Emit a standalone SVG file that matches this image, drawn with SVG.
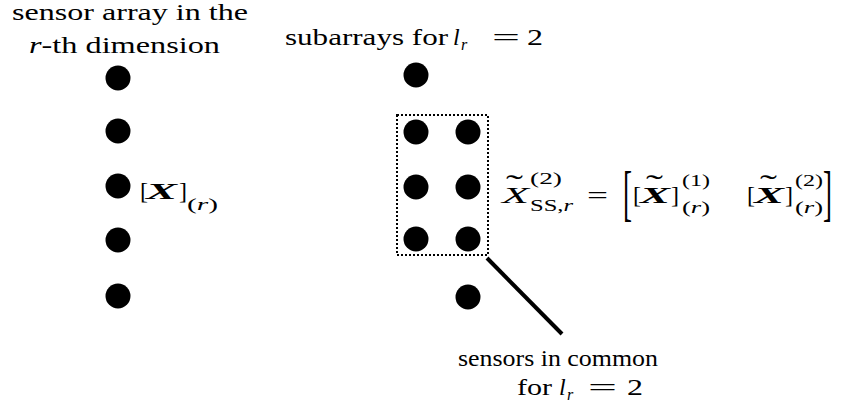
<svg xmlns="http://www.w3.org/2000/svg" width="841" height="408" viewBox="0 0 841 408">
<style>
text{font-family:'Liberation Serif','Times New Roman',serif;fill:#000}
.t{font-size:24px}
.i{font-style:italic}
.s{font-size:16px}
.bx{font-weight:bold;font-style:italic}
.big{font-size:62px}
.tl{font-size:30px}
.dot{fill:#000}
</style>
<rect width="841" height="408" fill="#fff"/>
<g id="label-left">
<text class="t" x="12" y="20" textLength="236" lengthAdjust="spacingAndGlyphs">sensor array in the</text>
<text class="t" x="29" y="53" textLength="191" lengthAdjust="spacingAndGlyphs"><tspan class="i">r</tspan>-th dimension</text>
</g>
<g id="label-sub">
<text class="t" x="285" y="45" textLength="163" lengthAdjust="spacingAndGlyphs">subarrays for</text>
<text class="t i" x="453" y="45">l</text>
<text class="t i s" x="461" y="50">r</text>
<text class="t" x="492" y="45" textLength="28" lengthAdjust="spacingAndGlyphs">=</text>
<text class="t" x="527" y="45" textLength="16" lengthAdjust="spacingAndGlyphs">2</text>
</g>
<g id="array-left">
<circle class="dot" cx="118" cy="78" r="12.5"/>
<circle class="dot" cx="118" cy="131" r="12.5"/>
<circle class="dot" cx="118" cy="186" r="12.5"/>
<circle class="dot" cx="118" cy="240" r="12.5"/>
<circle class="dot" cx="118" cy="296" r="12.5"/>
</g>
<g id="label-x">
<text class="t" x="140" y="199">[</text>
<text class="t bx" x="146" y="199" textLength="31" lengthAdjust="spacingAndGlyphs">X</text>
<text class="t" x="179" y="199">]</text>
<text class="t s" x="187" y="210" textLength="31" lengthAdjust="spacingAndGlyphs">(<tspan class="i">r</tspan>)</text>
</g>
<g id="array-right">
<circle class="dot" cx="416" cy="75" r="12.5"/>
<circle class="dot" cx="416" cy="132" r="12.5"/>
<circle class="dot" cx="468" cy="132" r="12.5"/>
<circle class="dot" cx="416" cy="187" r="12.5"/>
<circle class="dot" cx="468" cy="187" r="12.5"/>
<circle class="dot" cx="416" cy="239" r="12.5"/>
<circle class="dot" cx="468" cy="239" r="12.5"/>
<circle class="dot" cx="468" cy="297" r="12.5"/>
</g>
<g id="subarray-box">
<rect x="397" y="115" width="91" height="140" fill="none" stroke="#000" stroke-width="2" stroke-dasharray="2 2"/>
</g>
<g id="formula">
<text class="t i" x="502" y="203" textLength="27" lengthAdjust="spacingAndGlyphs">X</text>
<text class="tl" x="506" y="195" textLength="17" lengthAdjust="spacingAndGlyphs">˜</text>
<text class="t s" x="530" y="184" textLength="32" lengthAdjust="spacingAndGlyphs">(2)</text>
<text class="t s" x="530" y="211" textLength="43" lengthAdjust="spacingAndGlyphs">SS,<tspan class="i">r</tspan></text>
<text class="t" x="587" y="203" textLength="21" lengthAdjust="spacingAndGlyphs">=</text>
<text class="big" x="623" y="214" textLength="9" lengthAdjust="spacingAndGlyphs">[</text>
<text class="t" x="633" y="203">[</text>
<text class="t bx" x="640" y="203" textLength="30" lengthAdjust="spacingAndGlyphs">X</text>
<text class="tl" x="646" y="195" textLength="17" lengthAdjust="spacingAndGlyphs">˜</text>
<text class="t" x="671" y="203">]</text>
<text class="t s" x="682" y="186" textLength="28" lengthAdjust="spacingAndGlyphs">(1)</text>
<text class="t s" x="682" y="213" textLength="28" lengthAdjust="spacingAndGlyphs">(<tspan class="i">r</tspan>)</text>
<text class="t" x="747" y="203">[</text>
<text class="t bx" x="754" y="203" textLength="30" lengthAdjust="spacingAndGlyphs">X</text>
<text class="tl" x="760" y="195" textLength="17" lengthAdjust="spacingAndGlyphs">˜</text>
<text class="t" x="785" y="203">]</text>
<text class="t s" x="795" y="186" textLength="28" lengthAdjust="spacingAndGlyphs">(2)</text>
<text class="t s" x="795" y="213" textLength="28" lengthAdjust="spacingAndGlyphs">(<tspan class="i">r</tspan>)</text>
<text class="big" x="823" y="214" textLength="9" lengthAdjust="spacingAndGlyphs">]</text>
</g>
<g id="label-common">
<text class="t" x="458" y="366" textLength="200" lengthAdjust="spacingAndGlyphs">sensors in common</text>
<text class="t" x="517" y="395" textLength="35" lengthAdjust="spacingAndGlyphs">for</text>
<text class="t i" x="559" y="395">l</text>
<text class="t i s" x="567" y="400">r</text>
<text class="t" x="588" y="395" textLength="29" lengthAdjust="spacingAndGlyphs">=</text>
<text class="t" x="627" y="395" textLength="16" lengthAdjust="spacingAndGlyphs">2</text>
</g>
<g id="connectors">
<line x1="487" y1="258" x2="562" y2="334" stroke="#000" stroke-width="4"/>
</g>
</svg>
